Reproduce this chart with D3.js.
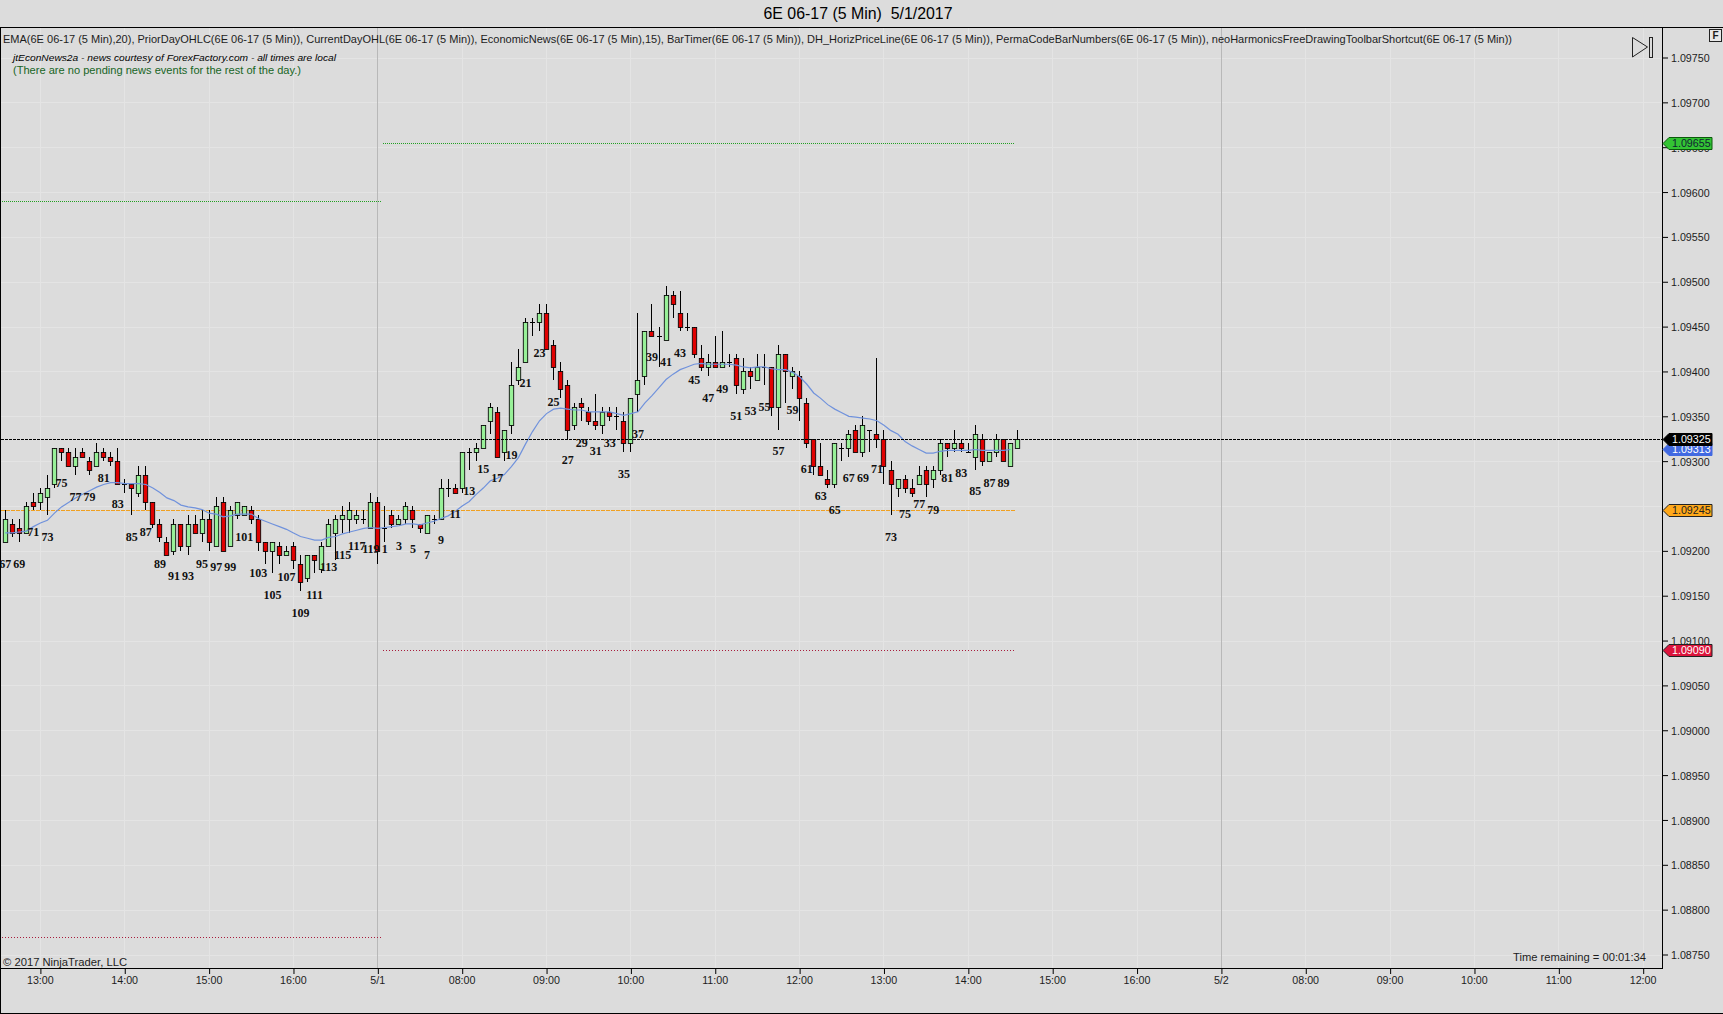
<!DOCTYPE html>
<html>
<head>
<meta charset="utf-8">
<title>6E 06-17 (5 Min) 5/1/2017</title>
<script src="https://d3js.org/d3.v7.min.js"></script>
<style>
  html, body { margin: 0; padding: 0; background: #dcdcdc; overflow: hidden; }
  svg { display: block; }
  text { font-family: "Liberation Sans", Arial, sans-serif; fill: #1c1c1c; white-space: pre; }
  .tick text { font-size: 10.7px; }
  .barnum { font-family: "Liberation Serif", serif; font-weight: bold; font-size: 12px; fill: #111; }
</style>
</head>
<body>
<div id="adiv"></div>
<script>
// bars, oldest first (5 minute 6E 06-17)
var opens = [
  1.09210,1.09230,1.09225,1.09220,1.09255,1.09255,1.09260,1.09275,1.09315,1.09310,
  1.09295,1.09310,1.09300,1.09295,1.09310,1.09305,1.09300,1.09275,1.09275,1.09265,
  1.09285,1.09255,1.09230,1.09210,1.09200,1.09230,1.09205,1.09230,1.09220,1.09235,
  1.09205,1.09255,1.09205,1.09240,1.09240,1.09245,1.09235,1.09210,1.09200,1.09205,
  1.09195,1.09205,1.09185,1.09170,1.09195,1.09180,1.09205,1.09220,1.09235,1.09235,
  1.09235,1.09235,1.09225,1.09255,1.09225,1.09240,1.09230,1.09235,1.09245,1.09230,
  1.09220,1.09235,1.09235,1.09270,1.09270,1.09270,1.09310,1.09310,1.09315,1.09345,
  1.09355,1.09310,1.09340,1.09390,1.09410,1.09455,1.09455,1.09465,1.09430,1.09400,
  1.09385,1.09340,1.09365,1.09355,1.09345,1.09340,1.09355,1.09350,1.09345,1.09320,
  1.09375,1.09395,1.09445,1.09440,1.09435,1.09485,1.09465,1.09450,1.09450,1.09415,
  1.09405,1.09410,1.09405,1.09410,1.09415,1.09380,1.09400,1.09390,1.09405,1.09405,
  1.09360,1.09420,1.09395,1.09395,1.09365,1.09325,1.09295,1.09280,1.09275,1.09315,
  1.09315,1.09335,1.09310,1.09335,1.09330,1.09325,1.09290,1.09270,1.09280,1.09270,
  1.09275,1.09290,1.09280,1.09290,1.09320,1.09315,1.09320,1.09310,1.09305,1.09325,
  1.09300,1.09310,1.09325,1.09295,1.09315
];
var highs = [
  1.09245,1.09235,1.09235,1.09255,1.09265,1.09270,1.09285,1.09315,1.09315,1.09315,
  1.09315,1.09315,1.09305,1.09320,1.09315,1.09310,1.09315,1.09280,1.09275,1.09295,
  1.09295,1.09255,1.09235,1.09215,1.09235,1.09230,1.09240,1.09240,1.09245,1.09245,
  1.09260,1.09260,1.09250,1.09255,1.09250,1.09250,1.09240,1.09210,1.09210,1.09210,
  1.09205,1.09210,1.09195,1.09195,1.09195,1.09210,1.09235,1.09240,1.09250,1.09255,
  1.09245,1.09245,1.09265,1.09260,1.09250,1.09245,1.09240,1.09255,1.09250,1.09230,
  1.09240,1.09240,1.09280,1.09280,1.09275,1.09310,1.09315,1.09320,1.09340,1.09365,
  1.09360,1.09335,1.09410,1.09425,1.09460,1.09460,1.09475,1.09475,1.09435,1.09410,
  1.09390,1.09365,1.09370,1.09360,1.09375,1.09360,1.09360,1.09360,1.09355,1.09370,
  1.09465,1.09445,1.09475,1.09450,1.09495,1.09490,1.09490,1.09465,1.09450,1.09430,
  1.09420,1.09440,1.09445,1.09420,1.09420,1.09415,1.09405,1.09420,1.09420,1.09405,
  1.09430,1.09420,1.09405,1.09400,1.09370,1.09325,1.09320,1.09290,1.09320,1.09320,
  1.09335,1.09340,1.09350,1.09335,1.09415,1.09335,1.09300,1.09280,1.09285,1.09280,
  1.09295,1.09295,1.09295,1.09325,1.09320,1.09335,1.09325,1.09320,1.09340,1.09330,
  1.09310,1.09330,1.09325,1.09320,1.09335
];
var lows = [
  1.09210,1.09215,1.09210,1.09220,1.09245,1.09245,1.09240,1.09270,1.09300,1.09295,
  1.09285,1.09305,1.09285,1.09295,1.09300,1.09295,1.09275,1.09265,1.09240,1.09260,
  1.09245,1.09225,1.09210,1.09195,1.09195,1.09200,1.09195,1.09220,1.09210,1.09200,
  1.09205,1.09200,1.09205,1.09235,1.09240,1.09230,1.09200,1.09185,1.09175,1.09185,
  1.09195,1.09180,1.09155,1.09165,1.09175,1.09175,1.09205,1.09190,1.09220,1.09220,
  1.09230,1.09230,1.09225,1.09185,1.09210,1.09225,1.09230,1.09230,1.09225,1.09220,
  1.09220,1.09230,1.09235,1.09260,1.09265,1.09265,1.09290,1.09300,1.09315,1.09330,
  1.09305,1.09300,1.09330,1.09385,1.09410,1.09440,1.09445,1.09425,1.09390,1.09370,
  1.09325,1.09335,1.09345,1.09340,1.09335,1.09330,1.09345,1.09335,1.09310,1.09310,
  1.09355,1.09385,1.09440,1.09405,1.09435,1.09460,1.09445,1.09445,1.09415,1.09400,
  1.09395,1.09405,1.09405,1.09405,1.09375,1.09375,1.09380,1.09390,1.09385,1.09350,
  1.09335,1.09365,1.09380,1.09345,1.09315,1.09285,1.09285,1.09270,1.09270,1.09300,
  1.09305,1.09310,1.09305,1.09310,1.09315,1.09275,1.09240,1.09260,1.09265,1.09260,
  1.09275,1.09260,1.09270,1.09285,1.09305,1.09310,1.09310,1.09310,1.09290,1.09295,
  1.09300,1.09305,1.09300,1.09295,1.09315
];
var closes = [
  1.09235,1.09220,1.09220,1.09250,1.09250,1.09265,1.09270,1.09315,1.09310,1.09295,
  1.09305,1.09305,1.09290,1.09310,1.09305,1.09300,1.09275,1.09275,1.09270,1.09285,
  1.09255,1.09230,1.09215,1.09195,1.09230,1.09205,1.09230,1.09220,1.09235,1.09210,
  1.09250,1.09200,1.09245,1.09255,1.09250,1.09235,1.09210,1.09200,1.09210,1.09195,
  1.09200,1.09190,1.09165,1.09195,1.09190,1.09205,1.09230,1.09235,1.09240,1.09245,
  1.09240,1.09235,1.09255,1.09200,1.09225,1.09230,1.09235,1.09250,1.09235,1.09225,
  1.09240,1.09235,1.09270,1.09270,1.09265,1.09310,1.09310,1.09315,1.09340,1.09360,
  1.09305,1.09335,1.09385,1.09405,1.09455,1.09455,1.09465,1.09425,1.09405,1.09380,
  1.09335,1.09360,1.09360,1.09345,1.09340,1.09355,1.09350,1.09350,1.09320,1.09370,
  1.09390,1.09445,1.09440,1.09440,1.09485,1.09475,1.09450,1.09450,1.09420,1.09405,
  1.09410,1.09405,1.09410,1.09410,1.09385,1.09400,1.09395,1.09405,1.09405,1.09360,
  1.09420,1.09400,1.09400,1.09370,1.09320,1.09295,1.09285,1.09275,1.09320,1.09315,
  1.09330,1.09310,1.09340,1.09335,1.09325,1.09295,1.09275,1.09280,1.09270,1.09265,
  1.09285,1.09275,1.09290,1.09320,1.09315,1.09320,1.09315,1.09310,1.09330,1.09300,
  1.09310,1.09325,1.09300,1.09320,1.09325
];
// EMA(20) as it reads off the picture, ends one bar before the last bar
var emaValues = [
  1.09220,1.09220,1.09221,1.09222,1.09227,1.09231,1.09234,1.09242,1.09249,1.09254,
  1.09259,1.09263,1.09267,1.09271,1.09274,1.09276,1.09276,1.09275,1.09275,1.09275,
  1.09274,1.09270,1.09265,1.09259,1.09256,1.09251,1.09249,1.09248,1.09246,1.09242,
  1.09241,1.09238,1.09239,1.09241,1.09241,1.09241,1.09236,1.09233,1.09230,1.09227,
  1.09224,1.09220,1.09216,1.09214,1.09212,1.09212,1.09215,1.09216,1.09219,1.09221,
  1.09223,1.09225,1.09226,1.09225,1.09226,1.09227,1.09228,1.09230,1.09230,1.09229,
  1.09231,1.09233,1.09236,1.09239,1.09244,1.09250,1.09255,1.09263,1.09270,1.09278,
  1.09281,1.09285,1.09294,1.09304,1.09319,1.09333,1.09345,1.09353,1.09358,1.09359,
  1.09358,1.09357,1.09357,1.09355,1.09355,1.09355,1.09355,1.09353,1.09351,1.09353,
  1.09355,1.09365,1.09373,1.09382,1.09391,1.09397,1.09402,1.09405,1.09408,1.09409,
  1.09408,1.09408,1.09408,1.09408,1.09407,1.09405,1.09404,1.09405,1.09405,1.09403,
  1.09402,1.09402,1.09399,1.09394,1.09386,1.09376,1.09370,1.09363,1.09358,1.09354,
  1.09350,1.09349,1.09348,1.09347,1.09345,1.09340,1.09334,1.09330,1.09322,1.09317,
  1.09313,1.09309,1.09309,1.09311,1.09312,1.09312,1.09312,1.09312,1.09313,1.09312,
  1.09312,1.09312,1.09312,1.09313
];
// PermaCode bar numbers sit under every second bar, the count restarts with the session
var barNumbers = [
  "67","69","71","73","75","77","79","81","83","85","87","89","91","93","95","97","99","101",
  "103","105","107","109","111","113","115","117","119",
  "1","3","5","7","9","11","13","15","17","19","21","23","25","27","29","31","33","35","37",
  "39","41","43","45","47","49","51","53","55","57","59","61","63","65","67","69","71","73",
  "75","77","79","81","83","85","87","89"
];
var barNumberPrices = [
  1.09186,1.09186,1.09221,1.09216,1.09276,1.09260,1.09260,1.09281,1.09252,1.09216,1.09221,1.09186,
  1.09172,1.09172,1.09186,1.09182,1.09182,1.09216,1.09176,1.09151,1.09171,1.09131,1.09151,1.09182,
  1.09196,1.09206,1.09202,1.09202,1.09206,1.09202,1.09196,1.09212,1.09241,1.09267,1.09291,1.09281,
  1.09307,1.09387,1.09421,1.09366,1.09301,1.09321,1.09311,1.09321,1.09286,1.09331,1.09416,1.09411,
  1.09421,1.09391,1.09371,1.09381,1.09351,1.09356,1.09361,1.09311,1.09357,1.09291,1.09261,1.09246,
  1.09281,1.09281,1.09291,1.09216,1.09241,1.09252,1.09246,1.09281,1.09287,1.09267,1.09276,1.09276
];
var priceTicks = [1.0975,1.097,1.0965,1.096,1.0955,1.095,1.0945,1.094,1.0935,1.093,1.0925,1.092,1.0915,1.091,1.0905,1.09,1.0895,1.089,1.0885,1.088,1.0875];
var timeLabels = ["13:00","14:00","15:00","16:00","5/1","08:00","09:00","10:00","11:00","12:00","13:00","14:00","15:00","16:00","5/2","08:00","09:00","10:00","11:00","12:00"];

var priorHigh = 1.09590, priorLow = 1.08770;
var currentHigh = 1.09655, currentLow = 1.09090, priorClose = 1.09245;
var lastPrice = 1.09325, lastEma = 1.09313;
var sessionBars = [53, 173];   // first bars of 5/1 and 5/2

var indicatorsText = "EMA(6E 06-17 (5 Min),20), PriorDayOHLC(6E 06-17 (5 Min)), CurrentDayOHL(6E 06-17 (5 Min)), EconomicNews(6E 06-17 (5 Min),15), BarTimer(6E 06-17 (5 Min)), DH_HorizPriceLine(6E 06-17 (5 Min)), PermaCodeBarNumbers(6E 06-17 (5 Min)), neoHarmonicsFreeDrawingToolbarShortcut(6E 06-17 (5 Min))";

var width = 1723, height = 1014;
var plot = {left: 1, top: 28, right: 1662, bottom: 968};
var upColor = "#98f098", downColor = "#e00000";

var sVg = d3.select("#adiv").append("svg")
  .attr("width", width)
  .attr("height", height)
  .style("background", "#dcdcdc");

var x = d3.scaleLinear().domain([5, 233]).range([40.4, 1643.2]);
var y = d3.scaleLinear().domain([1.0875, 1.0975]).range([954.5, 57.5]);
var timeTicks = d3.range(5, 234, 12);

// grid
sVg.append("g").selectAll("line").data(priceTicks).join("line")
  .attr("x1", plot.left).attr("x2", plot.right)
  .attr("y1", d => Math.round(y(d)) + 0.5).attr("y2", d => Math.round(y(d)) + 0.5)
  .attr("stroke", "#e4e4e4");
sVg.append("g").selectAll("line").data(timeTicks).join("line")
  .attr("x1", d => Math.floor(x(d)) + 0.5).attr("x2", d => Math.floor(x(d)) + 0.5)
  .attr("y1", plot.top).attr("y2", plot.bottom)
  .attr("stroke", d => sessionBars.includes(d) ? "#b8b8b8" : "#e4e4e4");

// prior day and current day levels
function levelLine(price, from, to, color, dash) {
  sVg.append("line")
    .attr("x1", Math.round(from)).attr("x2", Math.round(to))
    .attr("y1", Math.round(y(price)) + 0.5).attr("y2", Math.round(y(price)) + 0.5)
    .attr("stroke", color)
    .attr("stroke-dasharray", dash);
}
var sessionX = x(sessionBars[0]) + 3;
var lastX = x(opens.length - 1) - 3;
levelLine(priorHigh, plot.left + 1, sessionX, "#22a022", "1 1");
levelLine(priorLow, plot.left + 1, sessionX, "#a81c3c", "1 2");
levelLine(currentHigh, sessionX + 2, lastX, "#22a022", "1 1");
levelLine(currentLow, sessionX + 2, lastX, "#a81c3c", "1 2");
levelLine(priorClose, plot.left, lastX, "#f0a020", "4 1");

// candles
var bars = d3.range(opens.length);
var candles = sVg.append("g");
candles.selectAll(".wick").data(bars).join("line")
  .attr("class", "wick")
  .attr("shape-rendering", "crispEdges")
  .attr("x1", d => Math.floor(x(d)) + 0.5).attr("x2", d => Math.floor(x(d)) + 0.5)
  .attr("y1", d => y(highs[d])).attr("y2", d => y(lows[d]))
  .attr("stroke", "#000");
candles.selectAll(".body").data(bars.filter(d => opens[d] != closes[d])).join("rect")
  .attr("class", "body")
  .attr("x", d => Math.floor(x(d)) + 0.5 - 2.2)
  .attr("width", 4.4)
  .attr("y", d => Math.round(y(Math.max(opens[d], closes[d]))) + 0.5)
  .attr("height", d => Math.max(1, Math.round(y(Math.min(opens[d], closes[d]))) - Math.round(y(Math.max(opens[d], closes[d])))))
  .attr("fill", d => closes[d] > opens[d] ? upColor : downColor)
  .attr("stroke", "#000")
  .attr("stroke-width", 0.85);
candles.selectAll(".doji").data(bars.filter(d => opens[d] == closes[d])).join("line")
  .attr("class", "doji")
  .attr("shape-rendering", "crispEdges")
  .attr("x1", d => Math.floor(x(d)) - 2).attr("x2", d => Math.floor(x(d)) + 3)
  .attr("y1", d => Math.round(y(closes[d])) + 0.5).attr("y2", d => Math.round(y(closes[d])) + 0.5)
  .attr("stroke", "#000");

// EMA
sVg.append("path")
  .datum(emaValues)
  .attr("fill", "none")
  .attr("stroke", "#7092dc")
  .attr("stroke-width", 1.2)
  .attr("d", d3.line().x((d, i) => x(i)).y(d => y(d)));

// last price line
levelLine(lastPrice, plot.left, plot.right, "#000", "3 1");

// bar numbers
sVg.append("g").selectAll("text").data(barNumbers).join("text")
  .attr("class", "barnum")
  .attr("x", (d, i) => x(i * 2))
  .attr("y", (d, i) => y(barNumberPrices[i]))
  .attr("dy", "0.35em")
  .attr("text-anchor", "middle")
  .text(d => d);

// axes
var xAxis = d3.axisBottom(x)
  .tickValues(timeTicks)
  .tickSizeOuter(0)
  .tickSize(6)
  .tickPadding(2)
  .tickFormat((d, i) => timeLabels[i]);
var gx = sVg.append("g").attr("transform", "translate(0," + plot.bottom + ")").call(xAxis);
gx.select(".domain").remove();
gx.selectAll("line").attr("stroke", "#000");
gx.selectAll("text").style("fill", "#1c1c1c").attr("dx", -0.6);

var yAxis = d3.axisRight(y)
  .tickValues(priceTicks)
  .tickSize(6)
  .tickPadding(3)
  .tickFormat(d3.format(".5f"));
var gy = sVg.append("g").attr("transform", "translate(" + plot.right + ",0)").call(yAxis);
gy.select(".domain").remove();
gy.selectAll("line").attr("stroke", "#000");
gy.selectAll("text").style("fill", "#1c1c1c").attr("dy", "0.38em");
// the 1.09245 marker hides this label on the chart
gy.selectAll(".tick").filter(d => d == 1.0925).remove();

// frame
sVg.append("rect")
  .attr("x", plot.left - 0.5).attr("y", plot.top - 0.5)
  .attr("width", plot.right - plot.left + 1).attr("height", plot.bottom - plot.top + 1)
  .attr("fill", "none").attr("stroke", "#000");
sVg.append("line").attr("x1", plot.right).attr("x2", width).attr("y1", plot.top - 0.5).attr("y2", plot.top - 0.5).attr("stroke", "#000");
sVg.append("line").attr("x1", 0.5).attr("x2", 0.5).attr("y1", plot.bottom).attr("y2", height - 1).attr("stroke", "#000");
sVg.append("line").attr("x1", 0).attr("x2", width).attr("y1", height - 0.5).attr("y2", height - 0.5).attr("stroke", "#000");

// price markers on the axis
var tags = [
  {price: currentHigh, fill: "#33c433", text: "#123", edge: "#0a5a0a"},
  {price: priorClose, fill: "#ffa81a", text: "#222", edge: "#222"},
  {price: currentLow, fill: "#dc143c", text: "#fff", edge: "#222"},
  {price: lastEma, fill: "#4169e1", text: "#fff", edge: "#4169e1"},
  {price: lastPrice, fill: "#000", text: "#fff", edge: "#000"}
];
var tagG = sVg.append("g").selectAll("g").data(tags).join("g")
  .attr("transform", d => "translate(" + (plot.right + 1) + "," + (Math.round(y(d.price)) + 0.5) + ")");
tagG.append("path")
  .attr("d", "M0,0L6,-6H49V6H6Z")
  .attr("fill", d => d.fill)
  .attr("stroke", d => d.edge);
tagG.append("text")
  .attr("x", 9).attr("dy", "0.36em")
  .attr("font-size", 10.7)
  .style("fill", d => d.text)
  .text(d => d.price.toFixed(5));

// header and notes
sVg.append("text").attr("x", 858).attr("y", 19).attr("text-anchor", "middle")
  .attr("font-size", 16).style("fill", "#000")
  .attr("textLength", 189).attr("lengthAdjust", "spacingAndGlyphs")
  .text("6E 06-17 (5 Min)  5/1/2017");
sVg.append("text").attr("x", 3).attr("y", 43).attr("font-size", 10.7)
  .attr("textLength", 1509).attr("lengthAdjust", "spacingAndGlyphs")
  .text(indicatorsText);
sVg.append("text").attr("x", 13).attr("y", 61).attr("font-size", 9.3).attr("font-style", "italic")
  .style("fill", "#000")
  .attr("textLength", 323).attr("lengthAdjust", "spacingAndGlyphs")
  .text("jtEconNews2a - news courtesy of ForexFactory.com - all times are local");
sVg.append("text").attr("x", 13).attr("y", 74).attr("font-size", 10.7)
  .style("fill", "#17651f")
  .attr("textLength", 288).attr("lengthAdjust", "spacingAndGlyphs")
  .text("(There are no pending news events for the rest of the day.)");
sVg.append("text").attr("x", 3).attr("y", 966).attr("font-size", 10.7)
  .attr("textLength", 124).attr("lengthAdjust", "spacingAndGlyphs")
  .text("\u00a9 2017 NinjaTrader, LLC");
sVg.append("text").attr("x", 1513).attr("y", 961).attr("font-size", 10.7)
  .attr("textLength", 133).attr("lengthAdjust", "spacingAndGlyphs")
  .text("Time remaining = 00:01:34");

// toolbar icon and F button
sVg.append("path").attr("d", "M1632.5,37.5L1647.5,47L1632.5,57Z").attr("fill", "none").attr("stroke", "#222");
sVg.append("rect").attr("x", 1649.5).attr("y", 37.5).attr("width", 3).attr("height", 20).attr("fill", "none").attr("stroke", "#222");
sVg.append("rect").attr("x", 1709.5).attr("y", 29.5).attr("width", 12).attr("height", 12).attr("fill", "#e8e8e8").attr("stroke", "#222");
sVg.append("text").attr("x", 1715.5).attr("y", 39).attr("text-anchor", "middle").attr("font-size", 10).attr("font-weight", "bold").text("F");
</script>
</body>
</html>
